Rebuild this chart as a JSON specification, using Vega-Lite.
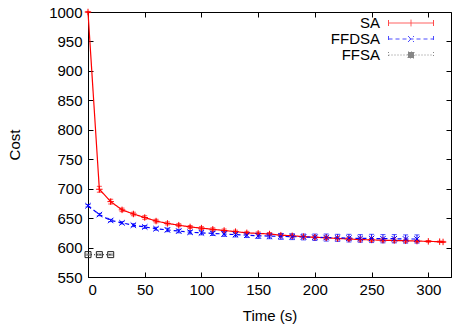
{
  "$schema": "https://vega.github.io/schema/vega-lite/v6.json",
  "width": 363,
  "height": 265,
  "autosize": {"type": "none"},
  "padding": {"left": 88, "top": 12, "right": 2, "bottom": 51},
  "background": "white",
  "config": {
    "view": {"stroke": "black", "strokeWidth": 1},
    "axis": {
      "labelFont": "Liberation Sans",
      "labelFontSize": 15,
      "labelColor": "black",
      "titleFont": "Liberation Sans",
      "titleFontSize": 15,
      "titleFontWeight": "normal",
      "titleColor": "black",
      "domainColor": "black",
      "tickColor": "black",
      "tickSize": -5,
      "grid": false
    },
    "legend": {
      "labelFont": "Liberation Sans",
      "labelFontSize": 15,
      "labelColor": "black",
      "padding": 0,
      "rowPadding": 0
    }
  },
  "data": {
    "values": [
      {"series": "SA", "t": 0, "cost": 1000, "lo": 999, "hi": 1001},
      {"series": "SA", "t": 10, "cost": 699, "lo": 694, "hi": 704},
      {"series": "SA", "t": 20, "cost": 678, "lo": 674, "hi": 682},
      {"series": "SA", "t": 30, "cost": 664, "lo": 661, "hi": 667},
      {"series": "SA", "t": 40, "cost": 657, "lo": 654, "hi": 660},
      {"series": "SA", "t": 50, "cost": 651, "lo": 648, "hi": 654},
      {"series": "SA", "t": 60, "cost": 645, "lo": 642, "hi": 648},
      {"series": "SA", "t": 70, "cost": 641, "lo": 638.5, "hi": 643.5},
      {"series": "SA", "t": 80, "cost": 638, "lo": 635.5, "hi": 640.5},
      {"series": "SA", "t": 90, "cost": 635, "lo": 632.5, "hi": 637.5},
      {"series": "SA", "t": 100, "cost": 633, "lo": 630.5, "hi": 635.5},
      {"series": "SA", "t": 110, "cost": 631, "lo": 628.5, "hi": 633.5},
      {"series": "SA", "t": 120, "cost": 629, "lo": 626.5, "hi": 631.5},
      {"series": "SA", "t": 130, "cost": 627, "lo": 624.5, "hi": 629.5},
      {"series": "SA", "t": 140, "cost": 625, "lo": 622.5, "hi": 627.5},
      {"series": "SA", "t": 150, "cost": 624, "lo": 621.5, "hi": 626.5},
      {"series": "SA", "t": 160, "cost": 623, "lo": 620.5, "hi": 625.5},
      {"series": "SA", "t": 170, "cost": 621, "lo": 618.5, "hi": 623.5},
      {"series": "SA", "t": 180, "cost": 620, "lo": 617.5, "hi": 622.5},
      {"series": "SA", "t": 190, "cost": 618.5, "lo": 616, "hi": 621},
      {"series": "SA", "t": 200, "cost": 617.5, "lo": 615, "hi": 620},
      {"series": "SA", "t": 210, "cost": 616.5, "lo": 614, "hi": 619},
      {"series": "SA", "t": 220, "cost": 615.5, "lo": 613, "hi": 618},
      {"series": "SA", "t": 230, "cost": 614.5, "lo": 612, "hi": 617},
      {"series": "SA", "t": 240, "cost": 613.5, "lo": 611, "hi": 616},
      {"series": "SA", "t": 250, "cost": 613, "lo": 610.5, "hi": 615.5},
      {"series": "SA", "t": 260, "cost": 612.5, "lo": 610, "hi": 615},
      {"series": "SA", "t": 270, "cost": 612, "lo": 609.5, "hi": 614.5},
      {"series": "SA", "t": 280, "cost": 611.5, "lo": 609, "hi": 614},
      {"series": "SA", "t": 290, "cost": 611, "lo": 609, "hi": 613},
      {"series": "SA", "t": 300, "cost": 610.5, "lo": 609, "hi": 612},
      {"series": "SA", "t": 310, "cost": 610, "lo": 609, "hi": 611},
      {"series": "SA", "t": 313, "cost": 609.5, "lo": 608.5, "hi": 610.5},
      {"series": "FFDSA", "t": 0, "cost": 671, "lo": 669, "hi": 673},
      {"series": "FFDSA", "t": 10, "cost": 656, "lo": 654, "hi": 658},
      {"series": "FFDSA", "t": 20, "cost": 646, "lo": 644, "hi": 648},
      {"series": "FFDSA", "t": 30, "cost": 642, "lo": 640, "hi": 644},
      {"series": "FFDSA", "t": 40, "cost": 638, "lo": 635.5, "hi": 640.5},
      {"series": "FFDSA", "t": 50, "cost": 635, "lo": 632.5, "hi": 637.5},
      {"series": "FFDSA", "t": 60, "cost": 632, "lo": 629.5, "hi": 634.5},
      {"series": "FFDSA", "t": 70, "cost": 630, "lo": 627, "hi": 633},
      {"series": "FFDSA", "t": 80, "cost": 628, "lo": 625, "hi": 631},
      {"series": "FFDSA", "t": 90, "cost": 626, "lo": 623, "hi": 629},
      {"series": "FFDSA", "t": 100, "cost": 625, "lo": 621.5, "hi": 628.5},
      {"series": "FFDSA", "t": 110, "cost": 624, "lo": 620.5, "hi": 627.5},
      {"series": "FFDSA", "t": 120, "cost": 623, "lo": 619, "hi": 627},
      {"series": "FFDSA", "t": 130, "cost": 622, "lo": 618, "hi": 626},
      {"series": "FFDSA", "t": 140, "cost": 621, "lo": 617, "hi": 625},
      {"series": "FFDSA", "t": 150, "cost": 620, "lo": 615.5, "hi": 624.5},
      {"series": "FFDSA", "t": 160, "cost": 619.5, "lo": 615, "hi": 624},
      {"series": "FFDSA", "t": 170, "cost": 619, "lo": 614, "hi": 624},
      {"series": "FFDSA", "t": 180, "cost": 618.5, "lo": 613.5, "hi": 623.5},
      {"series": "FFDSA", "t": 190, "cost": 618, "lo": 613, "hi": 623},
      {"series": "FFDSA", "t": 200, "cost": 617.5, "lo": 612, "hi": 623},
      {"series": "FFDSA", "t": 210, "cost": 617, "lo": 611, "hi": 623},
      {"series": "FFDSA", "t": 220, "cost": 616.5, "lo": 610.5, "hi": 622.5},
      {"series": "FFDSA", "t": 230, "cost": 616, "lo": 609.5, "hi": 622.5},
      {"series": "FFDSA", "t": 240, "cost": 615.5, "lo": 609, "hi": 622},
      {"series": "FFDSA", "t": 250, "cost": 615.5, "lo": 608.5, "hi": 622.5},
      {"series": "FFDSA", "t": 260, "cost": 615, "lo": 608, "hi": 622},
      {"series": "FFDSA", "t": 270, "cost": 615, "lo": 608, "hi": 622},
      {"series": "FFDSA", "t": 280, "cost": 614.5, "lo": 607.5, "hi": 621.5},
      {"series": "FFDSA", "t": 290, "cost": 614.5, "lo": 607.5, "hi": 621.5},
      {"series": "FFSA", "t": 0, "cost": 588, "lo": 587, "hi": 589},
      {"series": "FFSA", "t": 10, "cost": 588, "lo": 587, "hi": 589},
      {"series": "FFSA", "t": 20, "cost": 588, "lo": 587, "hi": 589}
    ]
  },
  "resolve": {"axis": {"x": "independent", "y": "independent"}},
  "layer": [
    {
      "mark": {"type": "rule", "strokeWidth": 1},
      "encoding": {
        "x": {"field": "t", "type": "quantitative", "scale": {"domain": [0, 320], "nice": false, "zero": false},
              "axis": {"orient": "top", "labels": false, "title": null, "domain": false, "values": [0, 50, 100, 150, 200, 250, 300]}},
        "y": {"field": "lo", "type": "quantitative", "scale": {"domain": [550, 1000], "nice": false, "zero": false},
              "axis": {"orient": "right", "labels": false, "title": null, "domain": false, "values": [550, 600, 650, 700, 750, 800, 850, 900, 950, 1000]}},
        "y2": {"field": "hi"},
        "color": {"field": "series", "type": "nominal", "scale": {"domain": ["SA", "FFDSA", "FFSA"], "range": ["#ff0000", "#0000ff", "#555555"]}}
      }
    },
    {
      "mark": {"type": "tick", "orient": "horizontal", "size": 5, "thickness": 1},
      "encoding": {
        "x": {"field": "t", "type": "quantitative", "axis": null},
        "y": {"field": "lo", "type": "quantitative", "axis": null},
        "color": {"field": "series", "type": "nominal"}
      }
    },
    {
      "mark": {"type": "tick", "orient": "horizontal", "size": 5, "thickness": 1},
      "encoding": {
        "x": {"field": "t", "type": "quantitative", "axis": null},
        "y": {"field": "hi", "type": "quantitative", "axis": null},
        "color": {"field": "series", "type": "nominal"}
      }
    },
    {
      "mark": {"type": "line", "strokeWidth": 1.2},
      "encoding": {
        "x": {"field": "t", "type": "quantitative", "title": "Time (s)",
              "axis": {"orient": "bottom", "format": "d", "values": [0, 50, 100, 150, 200, 250, 300], "labelPadding": 10, "titlePadding": 11}},
        "y": {"field": "cost", "type": "quantitative", "title": "Cost",
              "axis": {"orient": "left", "format": "d", "values": [550, 600, 650, 700, 750, 800, 850, 900, 950, 1000], "labelPadding": 11, "titlePadding": 26}},
        "color": {"field": "series", "type": "nominal"},
        "strokeDash": {"field": "series", "type": "nominal", "scale": {"domain": ["SA", "FFDSA", "FFSA"], "range": [[1, 0], [4, 3], [1, 2]]}}
      }
    },
    {
      "transform": [{"filter": "datum.series === 'SA'"}],
      "mark": {"type": "point", "shape": "M-1,0L1,0M0,-1L0,1", "filled": false, "size": 42, "strokeWidth": 1, "opacity": 1},
      "encoding": {
        "x": {"field": "t", "type": "quantitative", "axis": null},
        "y": {"field": "cost", "type": "quantitative", "axis": null},
        "color": {"field": "series", "type": "nominal"}
      }
    },
    {
      "transform": [{"filter": "datum.series === 'FFDSA'"}],
      "mark": {"type": "point", "shape": "M-1,-1L1,1M-1,1L1,-1", "filled": false, "size": 30, "strokeWidth": 1, "opacity": 1},
      "encoding": {
        "x": {"field": "t", "type": "quantitative", "axis": null},
        "y": {"field": "cost", "type": "quantitative", "axis": null},
        "color": {"field": "series", "type": "nominal"}
      }
    },
    {
      "transform": [{"filter": "datum.series === 'FFSA'"}],
      "mark": {"type": "point", "shape": "square", "filled": false, "size": 36, "strokeWidth": 1, "opacity": 1, "color": "#222222"},
      "encoding": {
        "x": {"field": "t", "type": "quantitative", "axis": null},
        "y": {"field": "cost", "type": "quantitative", "axis": null}
      }
    },
    {
      "transform": [{"filter": "datum.t < 0"}],
      "mark": {"type": "point", "filled": false, "size": 225, "strokeWidth": 1, "opacity": 1},
      "encoding": {
        "x": {"field": "t", "type": "quantitative", "axis": null},
        "y": {"field": "cost", "type": "quantitative", "axis": null},
        "color": {"field": "series", "type": "nominal",
                  "legend": {"orient": "none", "legendX": 315, "legendY": 3, "title": null, "labelAlign": "right", "labelOffset": -39, "symbolSize": 225, "symbolStrokeWidth": 1}},
        "shape": {"field": "series", "type": "nominal",
                  "scale": {"domain": ["SA", "FFDSA", "FFSA"],
                            "range": ["M-3,0L3,0M-3,-0.4L-3,0.4M3,-0.4L3,0.4M0,-0.45L0,0.45",
                                      "M-3,0L3,0M-3,-0.4L-3,0.4M3,-0.4L3,0.4M-0.4,-0.4L0.4,0.4M-0.4,0.4L0.4,-0.4",
                                      "M-3,0L3,0M-3,-0.4L-3,0.4M3,-0.4L3,0.4M-0.4,-0.4L0.4,-0.4L0.4,0.4L-0.4,0.4Z"]}},
        "strokeDash": {"field": "series", "type": "nominal"}
      }
    }
  ]
}
